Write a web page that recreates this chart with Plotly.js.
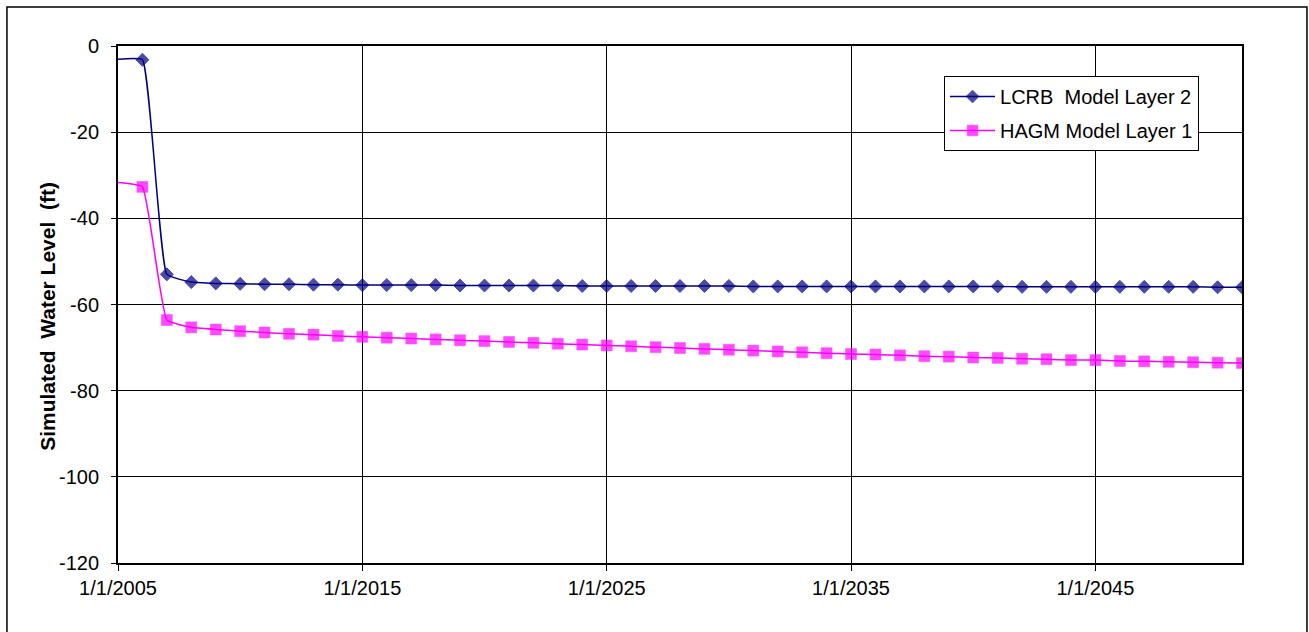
<!DOCTYPE html>
<html>
<head>
<meta charset="utf-8">
<script src="https://cdn.plot.ly/plotly-3.0.1.min.js"></script>
<style>html,body{margin:0;padding:0;background:#fff;}#chart{width:1309px;height:632px;}</style>
</head>
<body>
<div id="chart"></div>
<script>
// Years of the simulated series (Jan 1 of each year)
const years = [2005, 2006, 2007, 2008, 2009, 2010, 2011, 2012, 2013, 2014, 2015, 2016, 2017, 2018, 2019, 2020,
  2021, 2022, 2023, 2024, 2025, 2026, 2027, 2028, 2029, 2030, 2031, 2032, 2033, 2034, 2035,
  2036, 2037, 2038, 2039, 2040, 2041, 2042, 2043, 2044, 2045, 2046, 2047, 2048, 2049, 2050, 2051];

// LCRB Model Layer 2 (ft)
const lcrb = [-3.1, -3.2, -53.0, -54.8, -55.1, -55.2, -55.3, -55.3, -55.4, -55.4, -55.5, -55.5, -55.5, -55.5, -55.6, -55.6,
  -55.6, -55.6, -55.6, -55.7, -55.7, -55.7, -55.7, -55.7, -55.7, -55.7, -55.8, -55.8, -55.8, -55.8, -55.8,
  -55.8, -55.8, -55.8, -55.8, -55.8, -55.8, -55.9, -55.9, -55.9, -55.9, -55.9, -55.9, -55.9, -55.9, -56.0, -56.0];

// HAGM Model Layer 1 (ft)
const hagm = [-31.7, -32.7, -63.6, -65.3, -65.8, -66.2, -66.5, -66.8, -67.0, -67.3, -67.5, -67.7, -67.9, -68.1, -68.3, -68.5,
  -68.7, -68.9, -69.1, -69.3, -69.5, -69.7, -69.9, -70.1, -70.3, -70.5, -70.7, -70.9, -71.1, -71.3, -71.5,
  -71.6, -71.8, -72.0, -72.1, -72.3, -72.4, -72.6, -72.7, -72.9, -72.9, -73.1, -73.2, -73.3, -73.4, -73.5, -73.6];

const xTickYears = [2005, 2015, 2025, 2035, 2045];
const xTickLabels = ["1/1/2005", "1/1/2015", "1/1/2025", "1/1/2035", "1/1/2045"];
const yTickVals = [0, -20, -40, -60, -80, -100, -120];
const yTickLabels = ["0", "-20", "-40", "-60", "-80", "-100", "-120"];

const dates = years.map(y => y + "-01-01");
const diamondSizes = years.map((y, i) => i === 0 ? 0 : 10);
const squareSizes = years.map((y, i) => i === 0 ? 0 : 11);

const FONT = "Liberation Sans, Arial, sans-serif";
const SMOOTH = 0.35;

const traces = [
  {
    x: dates, y: lcrb, name: "LCRB\u00A0 Model Layer 2", type: "scatter", mode: "lines+markers",
    legendgroup: "a",
    line: {color: "#000080", width: 1.5, shape: "spline", smoothing: SMOOTH},
    marker: {symbol: "diamond", color: "#000080", size: diamondSizes, line: {color: "#000080", width: 1}}
  },
  {
    x: dates, y: hagm, name: "HAGM Model Layer 1", type: "scatter", mode: "lines+markers",
    legendgroup: "b",
    line: {color: "#FF00FF", width: 1.5, shape: "spline", smoothing: SMOOTH},
    marker: {symbol: "square", color: "#FF00FF", size: squareSizes, line: {color: "#FF00FF", width: 0.5}}
  }
];

const layout = {
  width: 1309, height: 632,
  margin: {l: 118, r: 67, t: 46, b: 69},
  paper_bgcolor: "#ffffff", plot_bgcolor: "#ffffff",
  font: {family: FONT, size: 20, color: "#000"},
  showlegend: true,
  legend: {
    x: 0.7349, y: 0.942, xanchor: "left", yanchor: "top",
    bgcolor: "#ffffff", bordercolor: "#000", borderwidth: 1,
    font: {family: FONT, size: 20, color: "#000"},
    tracegroupgap: 5,
    itemwidth: 45
  },
  xaxis: {
    type: "date",
    range: ["2005-01-01", "2051-01-01"],
    tickmode: "array",
    tickvals: xTickYears.map(y => y + "-01-01"),
    ticktext: xTickLabels,
    ticks: "outside", ticklen: 6, tickcolor: "#000", tickwidth: 1,
    showgrid: true, gridcolor: "#000", gridwidth: 1,
    showline: true, linecolor: "#000", linewidth: 2, mirror: true,
    zeroline: false,
    tickfont: {family: FONT, size: 20, color: "#000"}
  },
  yaxis: {
    range: [-120, 0],
    tickmode: "array", tickvals: yTickVals, ticktext: yTickLabels,
    ticks: "outside", ticklen: 5, tickcolor: "#000", tickwidth: 1,
    ticklabelstandoff: 8,
    showgrid: true, gridcolor: "#000", gridwidth: 1,
    showline: true, linecolor: "#000", linewidth: 2, mirror: true,
    zeroline: false,
    tickfont: {family: FONT, size: 20, color: "#000"}
  },
  annotations: [
    {text: "Simulated\u00A0 Water Level\u00A0 (ft)", xref: "paper", yref: "paper",
     x: -0.0623, y: 0.478, xanchor: "center", yanchor: "middle", textangle: -90, showarrow: false,
     font: {family: FONT, size: 21, color: "#000", weight: "bold"}}
  ],
  shapes: [
    {type: "rect", xref: "paper", yref: "paper", x0: -0.0988, x1: 1.0578, y0: -0.3, y1: 1.0754,
     line: {color: "#000", width: 1.5}, fillcolor: "rgba(0,0,0,0)", layer: "below"}
  ]
};

Plotly.newPlot("chart", traces, layout, {displayModeBar: false, staticPlot: true});
</script>
</body>
</html>
